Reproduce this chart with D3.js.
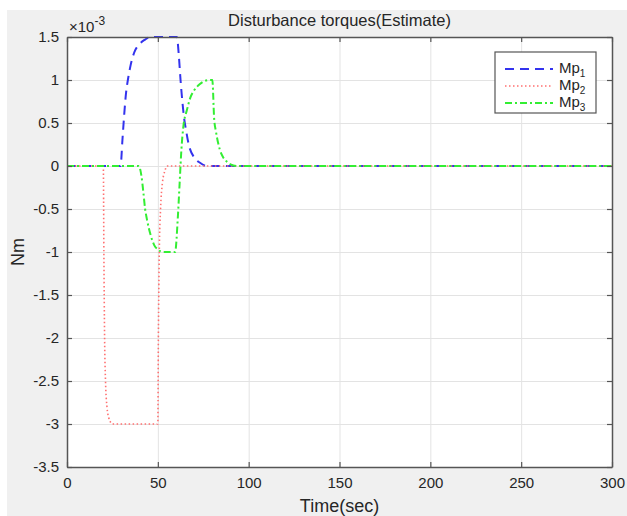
<!DOCTYPE html>
<html>
<head>
<meta charset="utf-8">
<script src="https://cdn.jsdelivr.net/npm/d3@7"></script>
<style>
  body { margin: 0; background: #fff; }
  svg { display: block; font-family: "Liberation Sans", Arial, sans-serif; }
</style>
</head>
<body>
<div id="chart"></div>
<script>
// values in units of 1e-3 Nm
const mp1Time = [0, 29.5, 30.5, 31.5, 32.5, 33.5, 35, 37, 40, 43, 46, 50, 55, 60.5, 61.5, 62.5, 63.5, 64.5, 65.5, 67, 70, 73, 77, 300];
const mp1Vals = [0, 0, 0.3, 0.6, 0.85, 1.0, 1.17, 1.32, 1.42, 1.47, 1.5, 1.5, 1.5, 1.5, 1.3, 1.0, 0.75, 0.55, 0.42, 0.25, 0.1, 0.04, 0, 0];

const mp2Time = [0, 20, 20.3, 20.7, 21.2, 22, 23, 24, 25, 50, 50.3, 50.8, 51.5, 52.5, 54, 55, 300];
const mp2Vals = [0, 0, -1, -2, -2.5, -2.8, -2.93, -2.98, -3, -3, -2, -1, -0.5, -0.2, -0.05, 0, 0];

const mp3Time = [0, 39.5, 41, 42, 43, 44, 46, 48, 50, 53, 55, 59.5, 61, 62, 63, 64, 66, 68, 70, 73, 76, 79, 80, 81, 82, 84, 86, 88, 90, 94, 300];
const mp3Vals = [0, 0, -0.12, -0.3, -0.5, -0.62, -0.8, -0.92, -0.97, -1, -1, -1, -0.6, -0.2, 0.2, 0.45, 0.65, 0.8, 0.88, 0.95, 0.99, 1, 1, 0.55, 0.4, 0.2, 0.1, 0.05, 0.02, 0, 0];

const seriesNames = ['Mp', 'Mp', 'Mp'];
const seriesSubs = ['1', '2', '3'];
const xTicks = [0, 50, 100, 150, 200, 250, 300];
const yTicks = [-3.5, -3, -2.5, -2, -1.5, -1, -0.5, 0, 0.5, 1, 1.5];

const W = 627, H = 516;
const margin = { top: 37, right: 15, bottom: 49, left: 67 };
const width = W - margin.left - margin.right;
const height = H - margin.top - margin.bottom;

const svg = d3.select('#chart').append('svg')
    .attr('width', W)
    .attr('height', H);

// figure background (MATLAB gray)
svg.append('rect')
    .attr('x', 7).attr('y', 10)
    .attr('width', W - 7).attr('height', H - 10)
    .attr('fill', '#f0f0f0');

const g = svg.append('g')
    .attr('transform', `translate(${margin.left},${margin.top})`);

g.append('rect')
    .attr('width', width).attr('height', height)
    .attr('fill', '#fff');

const x = d3.scaleLinear().domain([0, 300]).range([0, width]);
const y = d3.scaleLinear().domain([-3.5, 1.5]).range([height, 0]);

// gridlines
g.append('g')
    .call(d3.axisBottom(x).tickValues(xTicks).tickSize(height).tickFormat(''))
    .call(s => s.select('.domain').remove())
    .selectAll('.tick line').attr('stroke', '#e3e3e3');
g.append('g')
    .call(d3.axisLeft(y).tickValues(yTicks).tickSize(-width).tickFormat(''))
    .call(s => s.select('.domain').remove())
    .selectAll('.tick line').attr('stroke', '#e3e3e3');

// series
const series = [
    { t: mp1Time, v: mp1Vals, color: '#3333ee', dash: '9,6', w: 2 },
    { t: mp2Time, v: mp2Vals, color: '#ff7070', dash: '1.5,2.5', w: 1.6 },
    { t: mp3Time, v: mp3Vals, color: '#33ee33', dash: '7,3,2,3', w: 2 }
];

const line = d3.line()
    .x(d => x(d[0]))
    .y(d => y(d[1]))
    .curve(d3.curveMonotoneX);

series.forEach(s => {
    g.append('path')
        .datum(s.t.map((t, i) => [t, s.v[i]]))
        .attr('fill', 'none')
        .attr('stroke', s.color)
        .attr('stroke-width', s.w)
        .attr('stroke-dasharray', s.dash)
        .attr('d', line);
});

// axes with ticks on all sides
const axisColor = '#555';
const fontColor = '#262626';

const xAxis = g.append('g')
    .attr('transform', `translate(0,${height})`)
    .call(d3.axisBottom(x).tickValues(xTicks).tickSizeInner(-5).tickSizeOuter(0).tickPadding(10));
const yAxis = g.append('g')
    .call(d3.axisLeft(y).tickValues(yTicks).tickSizeInner(-5).tickSizeOuter(0).tickPadding(8).tickFormat(d => d));
const xTop = g.append('g')
    .call(d3.axisTop(x).tickValues(xTicks).tickSizeInner(-5).tickSizeOuter(0).tickFormat(''));
const yRight = g.append('g')
    .attr('transform', `translate(${width},0)`)
    .call(d3.axisRight(y).tickValues(yTicks).tickSizeInner(-5).tickSizeOuter(0).tickFormat(''));

[xAxis, yAxis, xTop, yRight].forEach(a => {
    a.select('.domain').attr('stroke', axisColor).attr('stroke-width', 1.5);
    a.selectAll('.tick line').attr('stroke', axisColor).attr('stroke-width', 1.2);
    a.selectAll('text').attr('fill', fontColor).style('font-size', '15px');
});

// exponent label
const expo = svg.append('text')
    .attr('x', margin.left + 2).attr('y', 32)
    .attr('fill', fontColor)
    .style('font-size', '15px');
expo.append('tspan').text('\u00d710');
expo.append('tspan').attr('dy', -7).style('font-size', '12px').text('-3');

// title
svg.append('text')
    .attr('x', margin.left + width / 2).attr('y', 26)
    .attr('text-anchor', 'middle')
    .attr('fill', fontColor)
    .style('font-size', '16.5px')
    .text('Disturbance torques(Estimate)');

// axis labels
svg.append('text')
    .attr('x', margin.left + width / 2).attr('y', 512)
    .attr('text-anchor', 'middle')
    .attr('fill', fontColor)
    .style('font-size', '18px')
    .text('Time(sec)');
svg.append('text')
    .attr('transform', `translate(24,${margin.top + height / 2}) rotate(-90)`)
    .attr('text-anchor', 'middle')
    .attr('fill', fontColor)
    .style('font-size', '18px')
    .text('Nm');

// legend
const lg = svg.append('g').attr('transform', 'translate(495,52)');
lg.append('rect')
    .attr('width', 101).attr('height', 61)
    .attr('fill', '#fff')
    .attr('stroke', '#555')
    .attr('stroke-width', 1.2);
series.forEach((s, i) => {
    const yy = 17 + i * 17;
    lg.append('line')
        .attr('x1', 10).attr('x2', 58)
        .attr('y1', yy).attr('y2', yy)
        .attr('stroke', s.color)
        .attr('stroke-width', s.w)
        .attr('stroke-dasharray', s.dash);
    const t = lg.append('text')
        .attr('x', 64).attr('y', yy + 4)
        .attr('fill', fontColor)
        .style('font-size', '15px');
    t.append('tspan').text(seriesNames[i]);
    t.append('tspan').attr('dy', 4).style('font-size', '10px').text(seriesSubs[i]);
});
</script>
</body>
</html>
